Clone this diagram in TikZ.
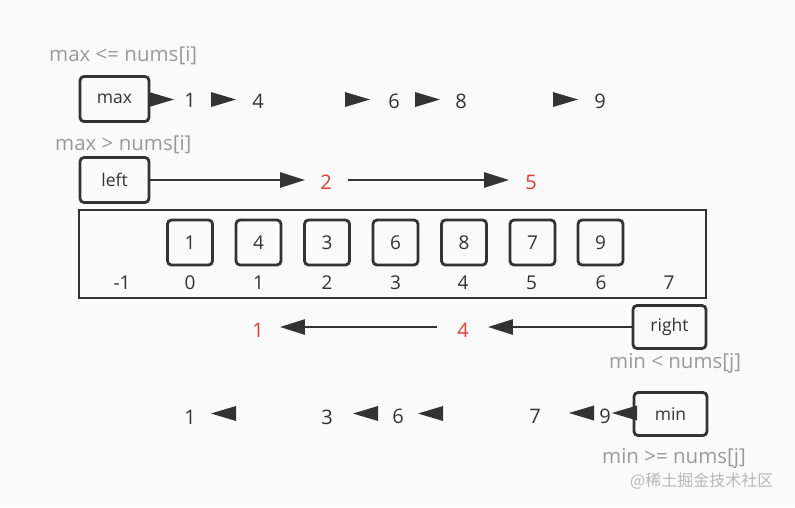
\documentclass[tikz,border=0pt]{standalone}
\usepackage{fontspec}
\setmainfont{Open Sans}
\newfontfamily\cjk{Noto Sans CJK SC}
\usetikzlibrary{arrows.meta}
\definecolor{dark}{HTML}{333333}
\definecolor{redc}{HTML}{E53A30}
\definecolor{greyc}{HTML}{9A9A9A}
\definecolor{bg}{HTML}{FAFAFA}
\tikzset{
  box/.style={draw=dark, line width=2.8pt, rounded corners=4pt, minimum width=69pt, minimum height=45pt, inner sep=0pt, font=\fontsize{17.5}{17.5}\selectfont, text=dark},
  cell/.style={draw=dark, line width=2.8pt, rounded corners=4pt, minimum width=45pt, minimum height=45pt, inner sep=0pt, font=\fontsize{19}{19}\selectfont, text=dark},
  num/.style={inner sep=0pt, font=\fontsize{20}{20}\selectfont, text=dark},
  rnum/.style={num, text=redc},
  idx/.style={inner sep=0pt, font=\fontsize{19}{19}\selectfont, text=dark},
  cond/.style={inner sep=0pt, anchor=west, font=\fontsize{20.5}{20.5}\selectfont, text=greyc},
  conn/.style={draw=dark, line width=2.6pt, -{Triangle[length=25pt,width=15pt]}},
}
\newcommand\trir[2]{\fill[dark] (#1,#2-7.5) -- (#1+25,#2) -- (#1,#2+7.5) -- cycle;}
\newcommand\tril[2]{\fill[dark] (#1+25,#2-7.5) -- (#1,#2) -- (#1+25,#2+7.5) -- cycle;}
\begin{document}
\begin{tikzpicture}[x=1pt,y=-1pt]
\fill[bg] (0,0) rectangle (795,507);
\useasboundingbox (0,0) rectangle (795,507);
% top section
\node[cond] (c1) at (49,56) {max <= nums[i]};
\node[box] (max) at (114.5,99) {max};
\node[num] (t1) at (190,100) {1};
\node[num] (t4) at (258,101) {4};
\node[num] (t6) at (394,101) {6};
\node[num] (t8) at (461,101) {8};
\node[num] (t9) at (600,101) {9};
\trir{149}{99.5}
\trir{211}{99.5}
\trir{345}{99.5}
\trir{415}{99.5}
\trir{553}{99.5}
\node[cond] (c2) at (55,145) {max > nums[i]};
\node[box] (left) at (114.5,180) {left};
\node[rnum] (r2) at (326,182) {2};
\node[rnum] (r5) at (531,182) {5};
\draw[conn] (left.east) -- ([xshift=-15pt]r2.west |- left.east);
\draw[conn] ([xshift=16pt]r2.east |- left.east) -- ([xshift=-16pt]r5.west |- left.east);
% array
\node[draw=dark, line width=2.8pt, minimum width=627pt, minimum height=88pt, inner sep=0pt] (arr) at (392.5,254) {};
\foreach \v/\x/\n in {1/190/a0,4/258.5/a1,3/327/a2,6/395.5/a3,8/464/a4,7/532.5/a5,9/600.5/a6}
  \node[cell] (\n) at (\x,242.5) {\v};
\foreach \v/\x/\n in {-1/122/im,0/190/i0,1/258.5/i1,2/327/i2,3/395.5/i3,4/463/i4,5/531.5/i5,6/601/i6,7/669/i7}
  \node[idx] (\n) at (\x,283) {\v};
% bottom section
\node[box, minimum width=73pt, minimum height=43pt] (right) at (669.5,327) {right};
\node[rnum] (b4) at (463,330) {4};
\node[rnum] (b1) at (258,330) {1};
\draw[conn] (right.west) -- ([xshift=19pt]b4.east |- right.west);
\draw[conn] ([xshift=-20pt]b4.west |- right.west) -- ([xshift=16pt]b1.east |- right.west);
\node[cond] (c3) at (609,363) {min < nums[j]};
\node[box, minimum width=73pt, minimum height=43pt] (min) at (670.5,414) {min};
\node[num] (d1) at (190,417) {1};
\node[num] (d3) at (327,417) {3};
\node[num] (d6) at (398,416) {6};
\node[num] (d7) at (535,416) {7};
\node[num] (d9) at (605,416) {9};
\tril{211}{413.5}
\tril{353}{413.5}
\tril{418}{413.5}
\tril{569}{413}
\tril{612}{413}
\node[cond] (c4) at (602,458) {min >= nums[j]};
\node[inner sep=0pt, anchor=west, text=greyc!70, font=\cjk\fontsize{16}{16}\selectfont] (wm) at (630,481) {@稀土掘金技术社区};
\end{tikzpicture}
\end{document}
